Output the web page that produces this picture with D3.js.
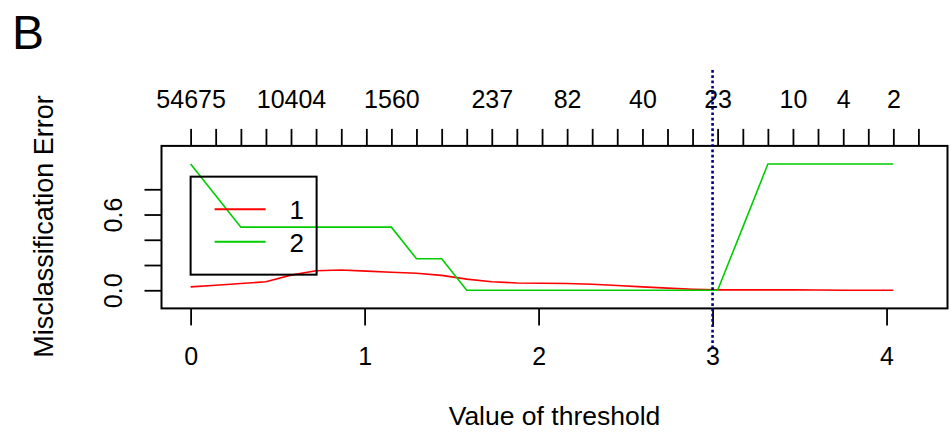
<!DOCTYPE html>
<html>
<head>
<meta charset="utf-8">
<script src="https://cdn.jsdelivr.net/npm/d3@7"></script>
<style>
  body { margin: 0; background: #fff; }
  svg { font-family: "Liberation Sans", Arial, sans-serif; }
</style>
</head>
<body>
<div id="main"></div>
<script>
// threshold values (one per top tick)
const thresholds = [0, 0.144, 0.289, 0.433, 0.577, 0.721, 0.866, 1.010, 1.154, 1.298,
  1.443, 1.587, 1.731, 1.875, 2.020, 2.164, 2.308, 2.452, 2.597, 2.741,
  2.885, 3.029, 3.174, 3.318, 3.462, 3.606, 3.751, 3.895, 4.039, 4.183];

// number of genes at the labelled thresholds (null = label not drawn)
const geneCounts = [54675, null, null, null, 10404, null, null, null, 1560, null,
  null, null, 237, null, null, 82, null, null, 40, null,
  null, 23, null, null, 10, null, 4, null, 2, null];

// misclassification error per class
const classNames = ['1', '2'];
const err1 = [0.027, 0.040, 0.053, 0.068, 0.120, 0.155, 0.160, 0.152, 0.143, 0.135,
  0.118, 0.088, 0.068, 0.058, 0.055, 0.054, 0.048, 0.038, 0.027, 0.017,
  0.008, 0.003, 0.003, 0.003, 0.003, 0.002, 0, 0, 0];
const err2 = [1, 0.75, 0.5, 0.5, 0.5, 0.5, 0.5, 0.5, 0.5, 0.25,
  0.25, 0, 0, 0, 0, 0, 0, 0, 0, 0,
  0, 0, 0.5, 1, 1, 1, 1, 1, 1];

const xTicks = [0, 1, 2, 3, 4];
const yTicks = [0, 0.2, 0.4, 0.6, 0.8];
const yTickLabels = ['0.0', '', '', '0.6', ''];
const chosenThreshold = 3;

const width = 951, height = 442;
const colors = ['#ff0000', '#00cd00'];

// R style 4% expansion
const xr = [0, d3.max(thresholds)], yr = [-0.096, 1.096];
const xp = (xr[1] - xr[0]) * 0.04, yp = (yr[1] - yr[0]) * 0.04;

const x = d3.scaleLinear().domain([xr[0] - xp, xr[1] + xp]).range([161.5, 947.5]);
const y = d3.scaleLinear().domain([yr[0] - yp, yr[1] + yp]).range([308.4, 145.9]);

const svg = d3.select('#main').append('svg')
  .attr('width', width).attr('height', height);

const font = 25, tick = 17;

function styleAxis(g) {
  g.select('.domain').remove();
  g.selectAll('.tick line').attr('stroke', '#000').attr('stroke-width', 1.8);
  g.selectAll('.tick text').attr('fill', '#000').attr('font-size', font);
}

// bottom axis
svg.append('g').attr('transform', `translate(0, ${y.range()[0]})`)
  .call(d3.axisBottom(x).tickValues(xTicks).tickSize(tick).tickFormat(d3.format('d')))
  .call(styleAxis)
  .call(g => g.selectAll('.tick text').attr('dy', null).attr('y', 57));

// top axis (number of genes)
svg.append('g').attr('transform', `translate(0, ${y.range()[1]})`)
  .call(d3.axisTop(x).tickValues(thresholds).tickSize(tick)
    .tickFormat((d, i) => geneCounts[i] == null ? '' : geneCounts[i]))
  .call(styleAxis)
  .call(g => g.selectAll('.tick text').attr('dy', null).attr('y', -38.2));

// left axis
svg.append('g').attr('transform', `translate(${x.range()[0]}, 0)`)
  .call(d3.axisLeft(y).tickValues(yTicks).tickSize(tick)
    .tickFormat((d, i) => yTickLabels[i]))
  .call(styleAxis)
  .call(g => g.selectAll('.tick text')
    .attr('x', null).attr('dy', null)
    .attr('text-anchor', 'middle')
    .attr('transform', 'translate(-39.8, 0) rotate(-90)'));

// lines
const line = d3.line().x((d, i) => x(thresholds[i])).y(d => y(d));
[err1, err2].forEach((s, k) => {
  svg.append('path').attr('d', line(s))
    .attr('fill', 'none').attr('stroke', colors[k]).attr('stroke-width', 1.6);
});

// plot box
svg.append('rect')
  .attr('x', x.range()[0]).attr('y', y.range()[1])
  .attr('width', x.range()[1] - x.range()[0])
  .attr('height', y.range()[0] - y.range()[1])
  .attr('fill', 'none').attr('stroke', '#000').attr('stroke-width', 2);

// chosen threshold
svg.append('line')
  .attr('x1', x(chosenThreshold)).attr('x2', x(chosenThreshold))
  .attr('y1', y(1.745)).attr('y2', y(-0.475))
  .attr('stroke', '#00008b').attr('stroke-width', 2.6)
  .attr('stroke-dasharray', '2.7,2.6');

// legend at (0, 0.9)
const lg = svg.append('g').attr('transform', `translate(${x(0)}, ${y(0.9)})`);
lg.append('rect').attr('width', 126).attr('height', 98)
  .attr('fill', 'none').attr('stroke', '#000').attr('stroke-width', 2);
classNames.forEach((c, k) => {
  const ly = 32.5 + k * 32.6;
  lg.append('line').attr('x1', 24).attr('x2', 75).attr('y1', ly).attr('y2', ly)
    .attr('stroke', colors[k]).attr('stroke-width', 2);
  lg.append('text').attr('x', 106).attr('y', ly + 10).attr('text-anchor', 'middle')
    .attr('font-size', 26).text(c);
});

// titles
svg.append('text').attr('x', 554.5).attr('y', 425).attr('text-anchor', 'middle')
  .attr('font-size', 26.5).text('Value of threshold');
svg.append('text').attr('transform', 'translate(53, 226.5) rotate(-90)')
  .attr('text-anchor', 'middle').attr('font-size', 27).text('Misclassification Error');
svg.append('text').attr('x', 12).attr('y', 49.3).attr('font-size', 48).text('B');
</script>
</body>
</html>
